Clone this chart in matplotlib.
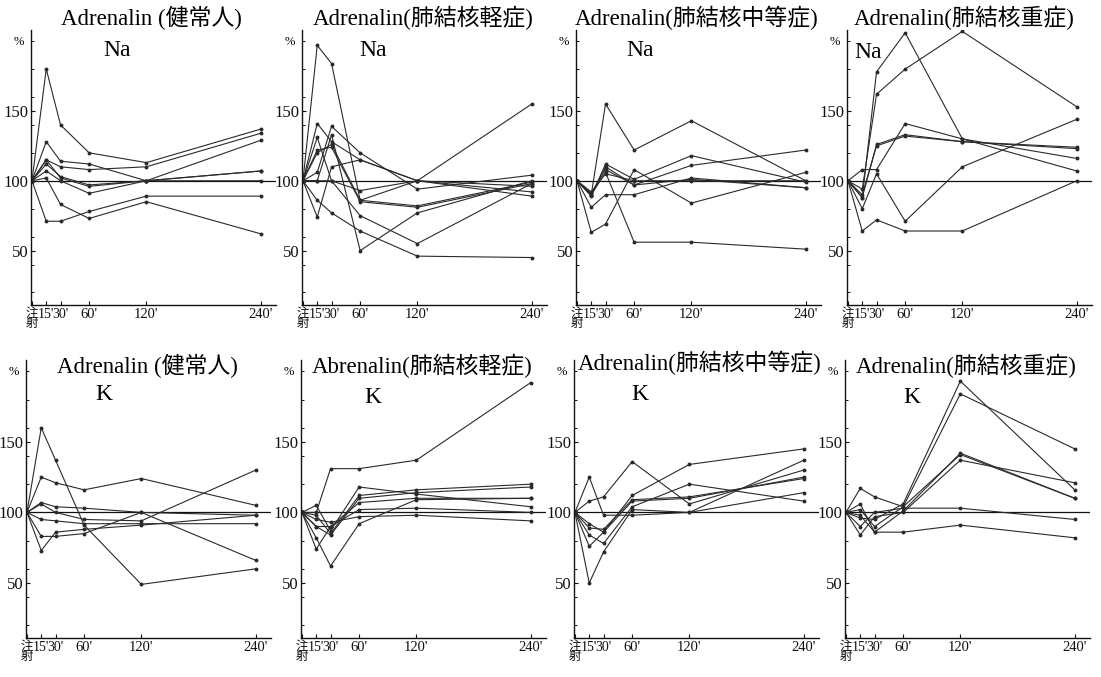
import matplotlib
matplotlib.use("Agg")
import matplotlib.pyplot as plt
from matplotlib.ticker import FixedLocator
from matplotlib.transforms import ScaledTranslation

FAM = ['Liberation Serif', 'Noto Sans CJK JP', 'DejaVu Sans']
plt.rcParams['font.family'] = FAM

# ---- data (percent of pre-injection value) ----
times = [0, 15, 30, 60, 120, 240]
time_labels = ["注\n射", "15'", "30'", "60'", "120'", "240'"]

na_normal = [
    [100, 180, 140, 120, 113, 137],
    [100, 128, 114, 112, 100, 129],
    [100, 115, 110, 108, 110, 134],
    [100, 115, 102, 96, 100, 107],
    [100, 112, 103, 97, 100, 107],
    [100, 107, 100, 91, 100, 100],
    [100, 102, 83, 73, 85, 62],
    [100, 71, 71, 78, 89, 89],
]
na_mild = [
    [100, 197, 184, 86, 100, 155],
    [100, 141, 128, 115, 100, 89],
    [100, 106, 139, 120, 94, 104],
    [100, 131, 100, 75, 55, 98],
    [100, 74, 110, 115, 100, 92],
    [100, 120, 126, 86, 82, 99],
    [100, 122, 124, 85, 81, 98],
    [100, 100, 133, 50, 77, 100],
    [100, 86, 77, 64, 46, 45],
    [100, 100, 100, 93, 100, 96],
]
na_moderate = [
    [100, 90, 155, 122, 143, 100],
    [100, 89, 112, 101, 118, 99],
    [100, 90, 110, 97, 111, 122],
    [100, 63, 69, 108, 84, 106],
    [100, 81, 90, 90, 102, 95],
    [100, 90, 106, 56, 56, 51],
    [100, 91, 108, 97, 101, 95],
    [100, 92, 105, 100, 100, 100],
]
na_severe = [
    [100, 88, 178, 206, 130, 107],
    [100, 94, 162, 180, 207, 153],
    [100, 108, 108, 141, 130, 116],
    [100, 88, 126, 133, 128, 124],
    [100, 90, 125, 132, 128, 123],
    [100, 80, 105, 71, 110, 144],
    [100, 64, 72, 64, 64, 100],
]
k_normal = [
    [100, 160, 137, 91, 49, 60],
    [100, 125, 121, 116, 124, 105],
    [100, 107, 104, 103, 100, 66],
    [100, 106, 100, 95, 94, 130],
    [100, 95, 94, 92, 92, 92],
    [100, 83, 83, 85, 100, 98],
    [100, 73, 86, 88, 91, 98],
]
k_mild = [
    [100, 100, 131, 131, 137, 192],
    [100, 105, 87, 118, 113, 104],
    [100, 98, 85, 112, 116, 120],
    [100, 90, 84, 110, 114, 118],
    [100, 82, 62, 92, 109, 110],
    [100, 90, 90, 102, 103, 100],
    [100, 95, 93, 97, 98, 94],
    [100, 74, 90, 107, 110, 110],
]
k_moderate = [
    [100, 108, 111, 136, 106, 130],
    [100, 125, 98, 98, 100, 137],
    [100, 89, 88, 109, 111, 124],
    [100, 76, 86, 112, 134, 145],
    [100, 84, 78, 104, 120, 108],
    [100, 50, 72, 102, 100, 114],
    [100, 92, 86, 108, 110, 125],
]
k_severe = [
    [100, 96, 95, 106, 193, 116],
    [100, 102, 90, 104, 184, 145],
    [100, 117, 111, 104, 141, 110],
    [100, 106, 86, 101, 142, 110],
    [100, 84, 97, 100, 137, 121],
    [100, 90, 100, 103, 103, 95],
    [100, 98, 86, 86, 91, 82],
]

titles_na = ["Adrenalin (健常人)", "Adrenalin(肺結核軽症)",
             "Adrenalin(肺結核中等症)", "Adrenalin(肺結核重症)"]
titles_k = ["Adrenalin (健常人)", "Abrenalin(肺結核軽症)",
            "Adrenalin(肺結核中等症)", "Adrenalin(肺結核重症)"]
ion_na = "Na"
ion_k = "K"
y_major = [50, 100, 150]
y_minor = [20, 40, 60, 80, 120, 140, 160, 180, 200]

# ---- layout ----
W, H = 1101, 677
fig = plt.figure(figsize=(W / 100, H / 100), dpi=100)
fig.patch.set_facecolor('white')

row_specs = [
    dict(lefts=[31, 302, 576, 847], top=30, bottom=305,
         series=[na_normal, na_mild, na_moderate, na_severe],
         titles=titles_na, ion=ion_na,
         title_y=[18, 18, 18, 18], title_x=[151, 423, 697, 964],
         ion_xy=[(117, 50), (373, 50), (640, 50), (868, 52)]),
    dict(lefts=[26, 301, 574, 845], top=360, bottom=638,
         series=[k_normal, k_mild, k_moderate, k_severe],
         titles=titles_k, ion=ion_k,
         title_y=[366, 366, 363, 366], title_x=[147, 422, 700, 966],
         ion_xy=[(104, 395), (373, 397), (640, 395), (912, 397)]),
]
AX_W = 245
line_col = '#2a2a2a'
label_shift = [-4, -3, 1.5, -3, -2, 0]  # px, hand-set label offsets
label_size = [9, 10, 10, 10.5, 10.5, 10.5]

for spec in row_specs:
    for i in range(4):
        left = spec['lefts'][i]
        ax = fig.add_axes([left / W, 1 - spec['bottom'] / H, AX_W / W,
                           (spec['bottom'] - spec['top']) / H])
        ax.set_xlim(-1, 256)
        ax.set_ylim(11, 208)
        ax.axhline(100, color='#111111', lw=0.9, zorder=1)
        for s in spec['series'][i]:
            ax.plot(times, s, color=line_col, lw=0.8, marker='o',
                    markersize=1.8, zorder=2)
        for side in ('top', 'right'):
            ax.spines[side].set_visible(False)
        for side in ('left', 'bottom'):
            ax.spines[side].set_linewidth(1.0)
            ax.spines[side].set_color('#111111')
        ax.set_xticks(times)
        ax.set_xticklabels(time_labels, family=FAM, linespacing=0.8)
        for lab, dx, fs in zip(ax.get_xticklabels(), label_shift, label_size):
            lab.set_fontsize(fs)
            lab.set_transform(lab.get_transform() +
                              ScaledTranslation(dx / 100, 0, fig.dpi_scale_trans))
        ax.set_yticks(y_major)
        ax.set_yticklabels([str(v) for v in y_major], fontsize=12, family=FAM)
        ax.yaxis.set_minor_locator(FixedLocator(y_minor))
        ax.tick_params(axis='both', which='major', direction='in', length=3,
                       width=0.8, pad=2, colors='#111111')
        ax.tick_params(axis='y', which='minor', direction='in', length=2,
                       width=0.7, colors='#111111')
        ax.patch.set_alpha(0)
        # percent sign
        fig.text((left - 12) / W, 1 - (spec['top'] + 12) / H, "%",
                 fontsize=9, ha='center', va='center', family=FAM)
        # title and ion label
        fig.text(spec['title_x'][i] / W, 1 - spec['title_y'][i] / H,
                 spec['titles'][i], fontsize=16.5, ha='center', va='center',
                 family=FAM)
        ix, iy = spec['ion_xy'][i]
        fig.text(ix / W, 1 - iy / H, spec['ion'], fontsize=17,
                 ha='center', va='center', family=FAM)

fig.savefig("out.png", dpi=100, facecolor='white')
